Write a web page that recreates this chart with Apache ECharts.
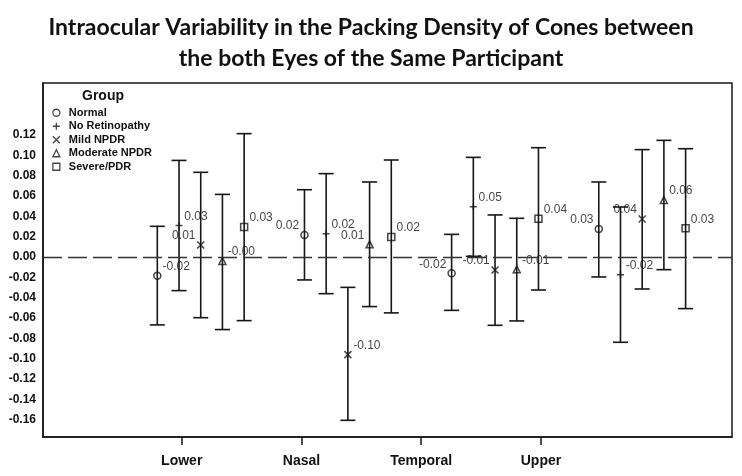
<!DOCTYPE html>
<html>
<head>
<meta charset="utf-8">
<script src="https://cdn.jsdelivr.net/npm/echarts@6/dist/echarts.min.js"></script>
<style>html,body{margin:0;padding:0;background:#fff;}#c{width:742px;height:476px;}</style>
</head>
<body>
<div id="c"></div>
<script>
// ---- data ----
const categories = ['Lower', 'Nasal', 'Temporal', 'Upper'];
const groups = ['Normal', 'No Retinopathy', 'Mild NPDR', 'Moderate NPDR', 'Severe/PDR'];
const normalMean = [-0.0184, 0.0216, -0.016, 0.0275];
const normalLow  = [-0.0668, -0.0226, -0.0525, -0.0197];
const normalHigh = [0.0301, 0.0661, 0.0222, 0.0737];
const noRetMean  = [0.0308, 0.0229, 0.0494, -0.0174];
const noRetLow   = [-0.0331, -0.0361, 0.0006, -0.0839];
const noRetHigh  = [0.0949, 0.0819, 0.0979, 0.0491];
const mildMean   = [0.0118, -0.096, -0.0128, 0.0373];
const mildLow    = [-0.0597, -0.1606, -0.0672, -0.0315];
const mildHigh   = [0.0832, -0.0299, 0.0413, 0.1055];
const modMean    = [-0.004, 0.0124, -0.0122, 0.056];
const modLow     = [-0.0714, -0.0488, -0.0629, -0.0125];
const modHigh    = [0.0615, 0.0737, 0.0380, 0.1146];
const sevMean    = [0.0295, 0.0197, 0.0376, 0.0281];
const sevLow     = [-0.0626, -0.055, -0.0325, -0.0508];
const sevHigh    = [0.1212, 0.0953, 0.1074, 0.1064];
const yTickLabels = [-0.16, -0.14, -0.12, -0.10, -0.08, -0.06, -0.04, -0.02, 0, 0.02, 0.04, 0.06, 0.08, 0.10, 0.12];

// ---- layout / style config ----
const means = [normalMean, noRetMean, mildMean, modMean, sevMean];
const lows = [normalLow, noRetLow, mildLow, modLow, sevLow];
const highs = [normalHigh, noRetHigh, mildHigh, modHigh, sevHigh];
const symbols = ['circle', 'path://M5,0L5,10M0,5L10,5', 'path://M0,0L10,10M10,0L0,10', 'triangle', 'rect'];
const labelSides = [
  ['right', 'left', 'left', 'left'],
  ['right', 'right', 'right', 'right'],
  ['left', 'right', 'left', 'left'],
  ['right', 'left', 'right', 'right'],
  ['right', 'right', 'right', 'right']
];
const FIRST = 0.796, GROUP_STEP = 1.229, SERIES_STEP = 0.1813;
function xPos(ci, gi) { return FIRST + ci * GROUP_STEP + gi * SERIES_STEP; }
const INK = '#161616';

const chart = echarts.init(document.getElementById('c'), null, {renderer: 'canvas'});

const errData = [];
groups.forEach((g, gi) => {
  categories.forEach((c, ci) => {
    errData.push([xPos(ci, gi), lows[gi][ci], highs[gi][ci]]);
  });
});

const series = [{
  type: 'custom',
  name: 'errorbars',
  data: errData,
  silent: true,
  z: 2,
  renderItem: function (params, api) {
    const x = api.value(0);
    const top = api.coord([x, api.value(2)]);
    const bot = api.coord([x, api.value(1)]);
    const hw = 7.5;
    const st = {stroke: INK, lineWidth: 1.6};
    return {
      type: 'group',
      children: [
        {type: 'line', shape: {x1: top[0], y1: top[1], x2: bot[0], y2: bot[1]}, style: st},
        {type: 'line', shape: {x1: top[0] - hw, y1: top[1], x2: top[0] + hw, y2: top[1]}, style: st},
        {type: 'line', shape: {x1: bot[0] - hw, y1: bot[1], x2: bot[0] + hw, y2: bot[1]}, style: st}
      ]
    };
  },
  markLine: {
    silent: true,
    symbol: ['none', 'none'],
    label: {show: false},
    lineStyle: {color: '#333', type: [19, 6], width: 1.3},
    data: [{yAxis: 0}]
  }
}];

groups.forEach((g, gi) => {
  series.push({
    type: 'scatter',
    name: g,
    symbol: symbols[gi],
    symbolSize: 7,
    z: 3,
    itemStyle: {color: 'rgba(0,0,0,0)', borderColor: INK, borderWidth: 1.5},
    data: categories.map((c, ci) => ({
      value: [xPos(ci, gi), means[gi][ci]],
      label: {
        show: true,
        position: labelSides[gi][ci],
        distance: 1,
        offset: [0, -9],
        formatter: (p) => p.value[1].toFixed(2),
        color: '#111',
        fontSize: 12,
        fontFamily: 'Liberation Sans, Arial, sans-serif'
      }
    }))
  });
});

chart.setOption({
  animation: false,
  backgroundColor: '#fff',
  title: [{
    text: 'Intraocular Variability in the Packing Density of Cones between\nthe both Eyes of the Same Participant',
    left: 'center',
    top: 7,
    textStyle: {fontFamily: 'Lato', fontWeight: 'bold', fontSize: 23, lineHeight: 31, color: '#111'}
  }, {
    text: 'Group',
    left: 82,
    top: 89,
    padding: 0,
    textStyle: {fontFamily: 'Liberation Sans, Arial, sans-serif', fontWeight: 'bold', fontSize: 14, color: '#111'}
  }],
  legend: {
    data: groups,
    orient: 'vertical',
    left: 52.2,
    top: 106,
    padding: 0,
    itemGap: 0,
    itemWidth: 7,
    itemHeight: 7,
    itemStyle: {color: 'rgba(0,0,0,0)', borderColor: INK, borderWidth: 1.3},
    textStyle: {fontFamily: 'Liberation Sans, Arial, sans-serif', fontWeight: 'bold', fontSize: 11, lineHeight: 13.5, color: '#111', padding: [0, 0, 0, 4]},
    selectedMode: false
  },
  grid: {
    left: 43, right: 10, top: 83, bottom: 39,
    show: true, borderColor: INK, borderWidth: 1.5, backgroundColor: 'transparent'
  },
  xAxis: {
    type: 'value',
    min: -0.1587,
    max: 5.5957,
    splitLine: {show: false},
    axisLine: {show: true, onZero: false, lineStyle: {color: INK, width: 1.5}},
    axisTick: {show: true, customValues: [1, 2, 3, 4], length: 8, lineStyle: {color: INK, width: 1.5}},
    axisLabel: {
      customValues: [1, 2, 3, 4],
      formatter: (v) => categories[Math.round(v) - 1] || '',
      margin: 17,
      fontFamily: 'Liberation Sans, Arial, sans-serif',
      fontWeight: 'bold',
      fontSize: 14,
      color: '#111'
    }
  },
  yAxis: {
    type: 'value',
    min: -0.177,
    max: 0.171,
    splitLine: {show: false},
    axisLine: {show: true, onZero: false, lineStyle: {color: INK, width: 1.5}},
    axisTick: {show: false},
    axisLabel: {
      customValues: yTickLabels,
      formatter: (v) => v.toFixed(2),
      margin: 7,
      fontFamily: 'Liberation Sans, Arial, sans-serif',
      fontWeight: 'bold',
      fontSize: 12,
      color: '#111'
    }
  },
  series: series
});
</script>
</body>
</html>
